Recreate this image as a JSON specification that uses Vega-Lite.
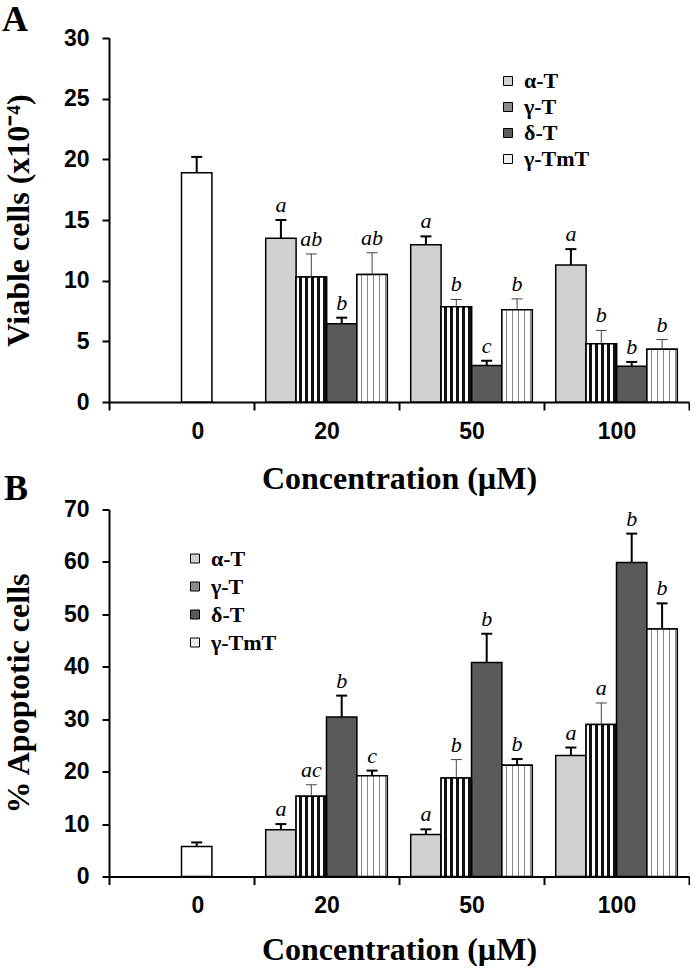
{
  "$schema": "https://vega.github.io/schema/vega-lite/v6.json",
  "padding": {"left": 2, "top": 2, "right": 0, "bottom": 0},
  "background": "white",
  "config": {
    "view": {"stroke": null},
    "axis": {"grid": false, "domainColor": "black", "domainWidth": 2, "tickColor": "black", "tickWidth": 2,
             "labelFont": "Liberation Sans", "labelFontSize": 23, "labelFontWeight": "bold", "labelColor": "black",
             "titleFont": "Liberation Serif", "titleFontSize": 32, "titleFontWeight": "bold", "titleColor": "black"},
    "legend": {"labelFont": "Liberation Serif", "labelFontSize": 22, "labelFontWeight": "bold", "labelColor": "black"}
  },
  "datasets": {
    "A": [
      {"conc": "0", "series": "Control", "value": 18.9, "upper": 20.2, "letter": ""},
      {"conc": "20", "series": "α-T", "value": 13.5, "upper": 15.0, "letter": "a"},
      {"conc": "20", "series": "γ-T", "value": 10.3, "upper": 12.2, "letter": "ab"},
      {"conc": "20", "series": "δ-T", "value": 6.45, "upper": 6.95, "letter": "b"},
      {"conc": "20", "series": "γ-TmT", "value": 10.5, "upper": 12.3, "letter": "ab"},
      {"conc": "50", "series": "α-T", "value": 12.95, "upper": 13.65, "letter": "a"},
      {"conc": "50", "series": "γ-T", "value": 7.85, "upper": 8.45, "letter": "b"},
      {"conc": "50", "series": "δ-T", "value": 3.0, "upper": 3.4, "letter": "c"},
      {"conc": "50", "series": "γ-TmT", "value": 7.6, "upper": 8.5, "letter": "b"},
      {"conc": "100", "series": "α-T", "value": 11.3, "upper": 12.6, "letter": "a"},
      {"conc": "100", "series": "γ-T", "value": 4.8, "upper": 5.9, "letter": "b"},
      {"conc": "100", "series": "δ-T", "value": 2.95, "upper": 3.3, "letter": "b"},
      {"conc": "100", "series": "γ-TmT", "value": 4.35, "upper": 5.15, "letter": "b"}
    ],
    "B": [
      {"conc": "0", "series": "Control", "value": 5.7, "upper": 6.5, "letter": ""},
      {"conc": "20", "series": "α-T", "value": 8.9, "upper": 10.0, "letter": "a"},
      {"conc": "20", "series": "γ-T", "value": 15.3, "upper": 17.5, "letter": "ac"},
      {"conc": "20", "series": "δ-T", "value": 30.4, "upper": 34.5, "letter": "b"},
      {"conc": "20", "series": "γ-TmT", "value": 19.2, "upper": 20.2, "letter": "c"},
      {"conc": "50", "series": "α-T", "value": 8.0, "upper": 9.0, "letter": "a"},
      {"conc": "50", "series": "γ-T", "value": 18.8, "upper": 22.3, "letter": "b"},
      {"conc": "50", "series": "δ-T", "value": 40.8, "upper": 46.3, "letter": "b"},
      {"conc": "50", "series": "γ-TmT", "value": 21.2, "upper": 22.4, "letter": "b"},
      {"conc": "100", "series": "α-T", "value": 23.1, "upper": 24.6, "letter": "a"},
      {"conc": "100", "series": "γ-T", "value": 29.0, "upper": 33.1, "letter": "a"},
      {"conc": "100", "series": "δ-T", "value": 59.9, "upper": 65.4, "letter": "b"},
      {"conc": "100", "series": "γ-TmT", "value": 47.2, "upper": 52.1, "letter": "b"}
    ]
  },
  "spacing": -23.5,
  "resolve": {"scale": {"color": "independent", "x": "independent", "y": "independent", "xOffset": "independent"}, "legend": {"color": "independent"}},
  "vconcat": [
    {
      "width": 580, "height": 364,
      "title": {"text": "A", "anchor": "start", "frame": "group", "dx": -107, "offset": -40, "baseline": "alphabetic", "fontSize": 36, "font": "Liberation Serif", "fontWeight": "bold", "color": "black"},
      "data": {"name": "A"},
      "encoding": {
        "x": {"field": "conc", "type": "nominal", "sort": null,
              "scale": {"domain": ["0", "20", "50", "100"], "paddingInner": 0, "paddingOuter": 0},
              "axis": {"title": "Concentration (µM)", "labelAngle": 0, "labelPadding": 10, "titlePadding": 20, "tickBand": "extent", "tickSize": 8,
                       "labelOffset": {"condition": {"test": "datum.value === '0'", "value": 16}, "value": 0}}},
        "y": {"field": "value", "type": "quantitative", "title": "Viable cells (x10⁻⁴)",
              "scale": {"domain": [0, 30], "nice": false},
              "axis": {"values": [0, 5, 10, 15, 20, 25, 30], "tickSize": 7, "labelPadding": 13, "titlePadding": 28}}
      },
      "layer": [
        {
          "transform": [{"filter": "datum.series != 'Control'"}],
          "encoding": {"xOffset": {"field": "series", "type": "nominal", "scale": {"domain": ["α-T", "γ-T", "δ-T", "γ-TmT"], "paddingInner": 0, "paddingOuter": 0.385}}},
          "layer": [
            {"mark": {"type": "bar", "stroke": "black", "strokeWidth": 1.5},
             "encoding": {"color": {"field": "series", "type": "nominal",
               "scale": {"domain": ["α-T", "γ-T", "δ-T", "γ-TmT"], "range": ["#d0d0d0", "#8a8a8a", "#5a5a5a", "#f0f0f0"]},
               "legend": {"title": null, "orient": "none", "legendX": 388, "legendY": 32, "symbolType": "square", "symbolSize": 81,
                          "symbolStrokeColor": "black", "symbolStrokeWidth": 1, "labelOffset": 5, "rowPadding": 4}}}},
            {"transform": [{"filter": "datum.series == 'γ-T'"}],
             "mark": {"type": "bar", "stroke": "black", "strokeWidth": 1.5,
               "fill": {"gradient": "linear", "x1": 0, "y1": 0, "x2": 1, "y2": 0, "stops": [
                     {"offset": 0, "color": "white"}, {"offset": 0.1, "color": "white"}, {"offset": 0.1, "color": "#111"}, {"offset": 0.18, "color": "#111"}, {"offset": 0.18, "color": "white"},
                     {"offset": 0.3, "color": "white"}, {"offset": 0.3, "color": "#111"}, {"offset": 0.38, "color": "#111"}, {"offset": 0.38, "color": "white"},
                     {"offset": 0.5, "color": "white"}, {"offset": 0.5, "color": "#111"}, {"offset": 0.58, "color": "#111"}, {"offset": 0.58, "color": "white"},
                     {"offset": 0.7, "color": "white"}, {"offset": 0.7, "color": "#111"}, {"offset": 0.78, "color": "#111"}, {"offset": 0.78, "color": "white"},
                     {"offset": 0.9, "color": "white"}, {"offset": 0.9, "color": "#111"}, {"offset": 0.98, "color": "#111"}, {"offset": 0.98, "color": "white"}, {"offset": 1, "color": "white"}]}}},
            {"transform": [{"filter": "datum.series == 'γ-TmT'"}],
             "mark": {"type": "bar", "stroke": "black", "strokeWidth": 1.5,
               "fill": {"gradient": "linear", "x1": 0, "y1": 0, "x2": 1, "y2": 0, "stops": [
                     {"offset": 0, "color": "white"}, {"offset": 0.12, "color": "white"}, {"offset": 0.12, "color": "#888"}, {"offset": 0.16, "color": "#888"}, {"offset": 0.16, "color": "white"},
                     {"offset": 0.32, "color": "white"}, {"offset": 0.32, "color": "#888"}, {"offset": 0.36, "color": "#888"}, {"offset": 0.36, "color": "white"},
                     {"offset": 0.52, "color": "white"}, {"offset": 0.52, "color": "#888"}, {"offset": 0.56, "color": "#888"}, {"offset": 0.56, "color": "white"},
                     {"offset": 0.72, "color": "white"}, {"offset": 0.72, "color": "#888"}, {"offset": 0.76, "color": "#888"}, {"offset": 0.76, "color": "white"},
                     {"offset": 0.92, "color": "white"}, {"offset": 0.92, "color": "#888"}, {"offset": 0.96, "color": "#888"}, {"offset": 0.96, "color": "white"}, {"offset": 1, "color": "white"}]}}},
            {"transform": [{"filter": "datum.series == 'α-T' || datum.series == 'δ-T'"}],
             "layer": [
               {"mark": {"type": "rule", "color": "black", "strokeWidth": 2}, "encoding": {"y2": {"field": "upper"}}},
               {"mark": {"type": "tick", "orient": "horizontal", "color": "black", "size": 11, "thickness": 2, "opacity": 1},
                "encoding": {"y": {"field": "upper", "type": "quantitative", "title": "Viable cells (x10⁻⁴)"}}}
             ]},
            {"transform": [{"filter": "datum.series == 'γ-T' || datum.series == 'γ-TmT'"}],
             "layer": [
               {"mark": {"type": "rule", "color": "#444", "strokeWidth": 1}, "encoding": {"y2": {"field": "upper"}}},
               {"mark": {"type": "tick", "orient": "horizontal", "color": "#444", "size": 11, "thickness": 1, "opacity": 1},
                "encoding": {"y": {"field": "upper", "type": "quantitative", "title": "Viable cells (x10⁻⁴)"}}}
             ]},
            {"mark": {"type": "text", "font": "Liberation Serif", "fontStyle": "italic", "fontSize": 22, "baseline": "alphabetic", "dy": -8, "color": "black"},
             "encoding": {"y": {"field": "upper", "type": "quantitative", "title": "Viable cells (x10⁻⁴)"}, "text": {"field": "letter"}}}
          ]
        },
        {
          "transform": [{"filter": "datum.series == 'Control'"}],
          "encoding": {"xOffset": {"datum": "δ-T", "type": "nominal"}},
          "layer": [
            {"mark": {"type": "bar", "fill": "white", "stroke": "black", "strokeWidth": 1.5}},
            {"mark": {"type": "rule", "color": "black", "strokeWidth": 2}, "encoding": {"y2": {"field": "upper"}}},
            {"mark": {"type": "tick", "orient": "horizontal", "color": "black", "size": 11, "thickness": 2, "opacity": 1},
             "encoding": {"y": {"field": "upper", "type": "quantitative", "title": "Viable cells (x10⁻⁴)"}}}
          ]
        }
      ]
    },
    {
      "width": 580, "height": 367,
      "title": {"text": "B", "anchor": "start", "frame": "group", "dx": -105, "offset": -37, "baseline": "alphabetic", "fontSize": 36, "font": "Liberation Serif", "fontWeight": "bold", "color": "black"},
      "data": {"name": "B"},
      "encoding": {
        "x": {"field": "conc", "type": "nominal", "sort": null,
              "scale": {"domain": ["0", "20", "50", "100"], "paddingInner": 0, "paddingOuter": 0},
              "axis": {"title": "Concentration (µM)", "labelAngle": 0, "labelPadding": 10, "titlePadding": 17, "tickBand": "extent", "tickSize": 8,
                       "labelOffset": {"condition": {"test": "datum.value === '0'", "value": 16}, "value": 0}}},
        "y": {"field": "value", "type": "quantitative", "title": "% Apoptotic cells",
              "scale": {"domain": [0, 70], "nice": false},
              "axis": {"values": [0, 10, 20, 30, 40, 50, 60, 70], "tickSize": 7, "labelPadding": 13, "titlePadding": 28}}
      },
      "layer": [
        {
          "transform": [{"filter": "datum.series != 'Control'"}],
          "encoding": {"xOffset": {"field": "series", "type": "nominal", "scale": {"domain": ["α-T", "γ-T", "δ-T", "γ-TmT"], "paddingInner": 0, "paddingOuter": 0.385}}},
          "layer": [
            {"mark": {"type": "bar", "stroke": "black", "strokeWidth": 1.5},
             "encoding": {"color": {"field": "series", "type": "nominal",
               "scale": {"domain": ["α-T", "γ-T", "δ-T", "γ-TmT"], "range": ["#d0d0d0", "#8a8a8a", "#5a5a5a", "#f0f0f0"]},
               "legend": {"title": null, "orient": "none", "legendX": 75, "legendY": 38, "symbolType": "square", "symbolSize": 81,
                          "symbolStrokeColor": "black", "symbolStrokeWidth": 1, "labelOffset": 5, "rowPadding": 6}}}},
            {"transform": [{"filter": "datum.series == 'γ-T'"}],
             "mark": {"type": "bar", "stroke": "black", "strokeWidth": 1.5,
               "fill": {"gradient": "linear", "x1": 0, "y1": 0, "x2": 1, "y2": 0, "stops": [
                     {"offset": 0, "color": "white"}, {"offset": 0.1, "color": "white"}, {"offset": 0.1, "color": "#111"}, {"offset": 0.18, "color": "#111"}, {"offset": 0.18, "color": "white"},
                     {"offset": 0.3, "color": "white"}, {"offset": 0.3, "color": "#111"}, {"offset": 0.38, "color": "#111"}, {"offset": 0.38, "color": "white"},
                     {"offset": 0.5, "color": "white"}, {"offset": 0.5, "color": "#111"}, {"offset": 0.58, "color": "#111"}, {"offset": 0.58, "color": "white"},
                     {"offset": 0.7, "color": "white"}, {"offset": 0.7, "color": "#111"}, {"offset": 0.78, "color": "#111"}, {"offset": 0.78, "color": "white"},
                     {"offset": 0.9, "color": "white"}, {"offset": 0.9, "color": "#111"}, {"offset": 0.98, "color": "#111"}, {"offset": 0.98, "color": "white"}, {"offset": 1, "color": "white"}]}}},
            {"transform": [{"filter": "datum.series == 'γ-TmT'"}],
             "mark": {"type": "bar", "stroke": "black", "strokeWidth": 1.5,
               "fill": {"gradient": "linear", "x1": 0, "y1": 0, "x2": 1, "y2": 0, "stops": [
                     {"offset": 0, "color": "white"}, {"offset": 0.12, "color": "white"}, {"offset": 0.12, "color": "#888"}, {"offset": 0.16, "color": "#888"}, {"offset": 0.16, "color": "white"},
                     {"offset": 0.32, "color": "white"}, {"offset": 0.32, "color": "#888"}, {"offset": 0.36, "color": "#888"}, {"offset": 0.36, "color": "white"},
                     {"offset": 0.52, "color": "white"}, {"offset": 0.52, "color": "#888"}, {"offset": 0.56, "color": "#888"}, {"offset": 0.56, "color": "white"},
                     {"offset": 0.72, "color": "white"}, {"offset": 0.72, "color": "#888"}, {"offset": 0.76, "color": "#888"}, {"offset": 0.76, "color": "white"},
                     {"offset": 0.92, "color": "white"}, {"offset": 0.92, "color": "#888"}, {"offset": 0.96, "color": "#888"}, {"offset": 0.96, "color": "white"}, {"offset": 1, "color": "white"}]}}},
            {"transform": [{"filter": "datum.series != 'γ-T'"}],
             "layer": [
               {"mark": {"type": "rule", "color": "black", "strokeWidth": 2}, "encoding": {"y2": {"field": "upper"}}},
               {"mark": {"type": "tick", "orient": "horizontal", "color": "black", "size": 11, "thickness": 2, "opacity": 1},
                "encoding": {"y": {"field": "upper", "type": "quantitative", "title": "% Apoptotic cells"}}}
             ]},
            {"transform": [{"filter": "datum.series == 'γ-T'"}],
             "layer": [
               {"mark": {"type": "rule", "color": "#444", "strokeWidth": 1}, "encoding": {"y2": {"field": "upper"}}},
               {"mark": {"type": "tick", "orient": "horizontal", "color": "#444", "size": 11, "thickness": 1, "opacity": 1},
                "encoding": {"y": {"field": "upper", "type": "quantitative", "title": "% Apoptotic cells"}}}
             ]},
            {"mark": {"type": "text", "font": "Liberation Serif", "fontStyle": "italic", "fontSize": 22, "baseline": "alphabetic", "dy": -8, "color": "black"},
             "encoding": {"y": {"field": "upper", "type": "quantitative", "title": "% Apoptotic cells"}, "text": {"field": "letter"}}}
          ]
        },
        {
          "transform": [{"filter": "datum.series == 'Control'"}],
          "encoding": {"xOffset": {"datum": "δ-T", "type": "nominal"}},
          "layer": [
            {"mark": {"type": "bar", "fill": "white", "stroke": "black", "strokeWidth": 1.5}},
            {"mark": {"type": "rule", "color": "black", "strokeWidth": 2}, "encoding": {"y2": {"field": "upper"}}},
            {"mark": {"type": "tick", "orient": "horizontal", "color": "black", "size": 11, "thickness": 2, "opacity": 1},
             "encoding": {"y": {"field": "upper", "type": "quantitative", "title": "% Apoptotic cells"}}}
          ]
        }
      ]
    }
  ]
}
